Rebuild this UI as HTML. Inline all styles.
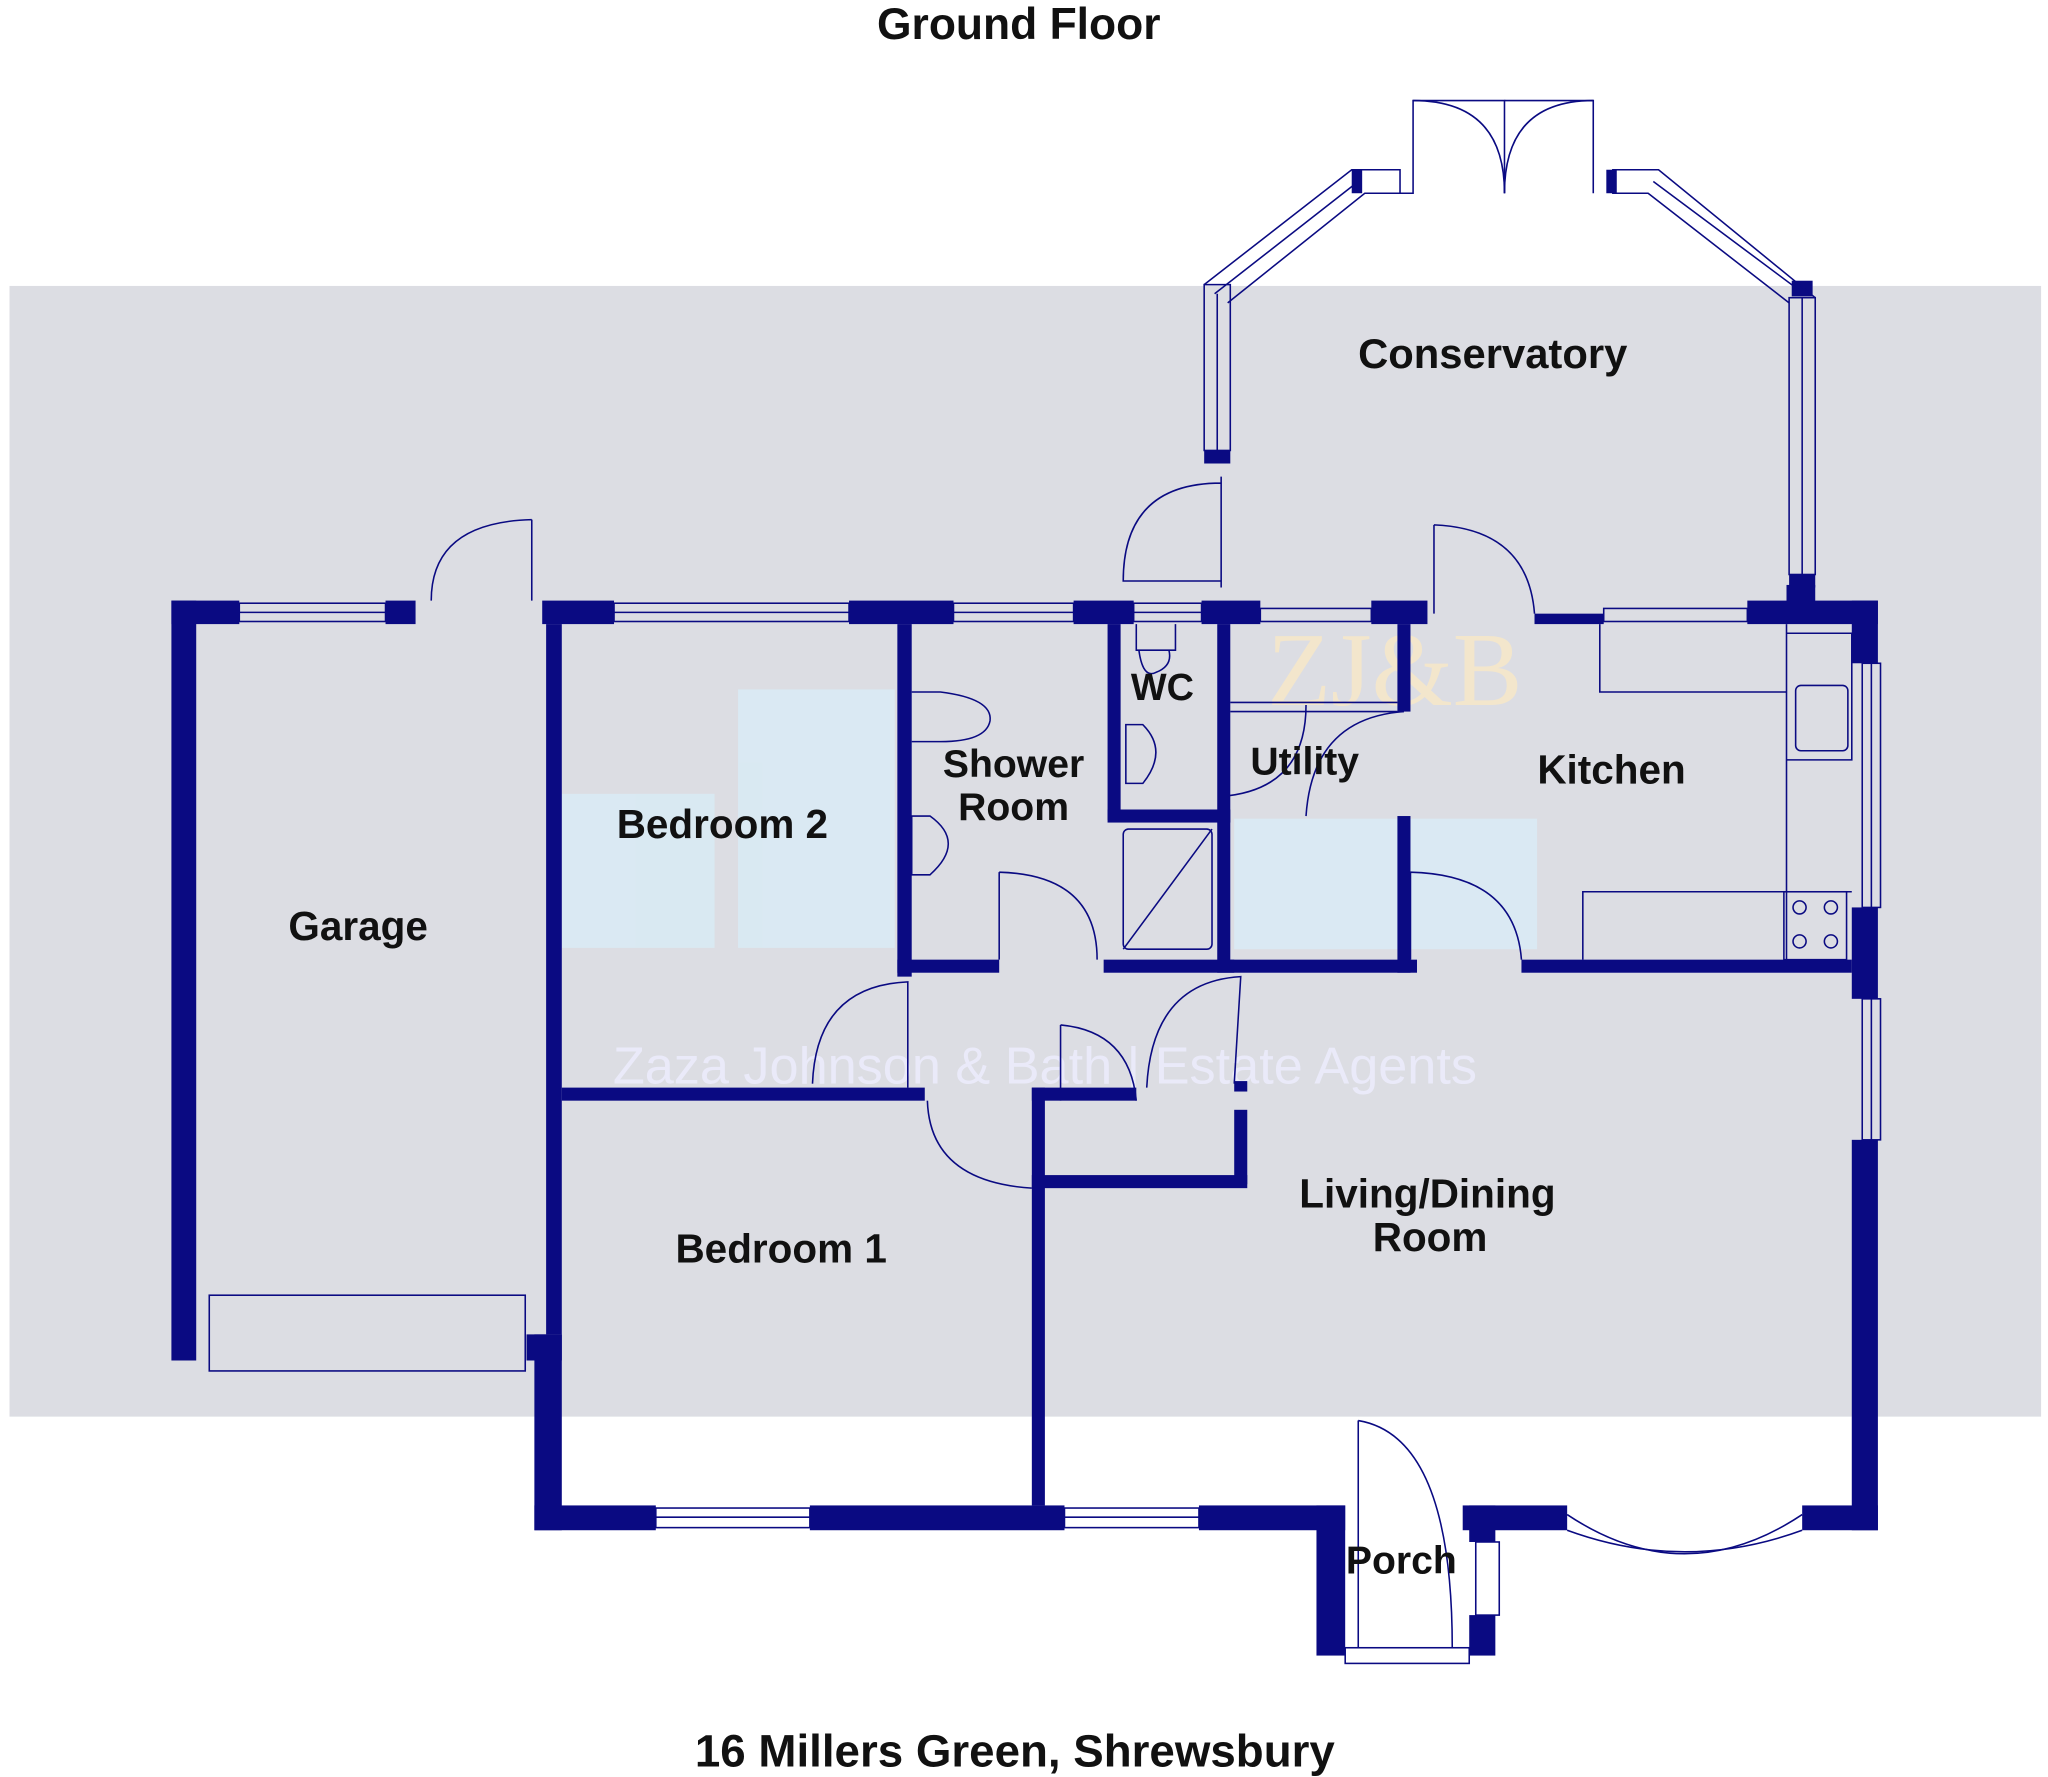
<!DOCTYPE html>
<html><head><meta charset="utf-8"><style>
html,body{margin:0;padding:0;background:#fff}
svg{display:block}
text{font-family:"Liberation Sans",sans-serif;font-weight:bold;fill:#111}
</style></head><body>
<svg width="2048" height="1777" viewBox="0 0 1568 1361" xmlns="http://www.w3.org/2000/svg">
<rect x="0" y="0" width="1568" height="1361" fill="#fff"/>
<rect x="7" y="219" width="1556" height="866" fill="#dcdde3"/>
<g fill="#d9ecf6" opacity="0.8">
<rect x="565" y="528" width="120" height="198"/><rect x="430" y="608" width="117" height="118"/>
<rect x="945" y="627" width="232" height="100"/>
</g>
<text x="800" y="830" font-size="40" style="font-weight:normal;fill:#eef" text-anchor="middle" opacity="0.8">Zaza Johnson &amp; Bath  |  Estate Agents</text>
<text x="1068" y="540" font-size="80" style="font-weight:normal;fill:#f3e6cc;font-family:'Liberation Serif',serif" text-anchor="middle">ZJ&amp;B</text>
<g fill="#0a0a82">
<rect x="131" y="460" width="19" height="582"/>
<rect x="131" y="460" width="52" height="18"/>
<rect x="295" y="460" width="23" height="18"/>
<rect x="403" y="1022" width="27" height="20"/>
<rect x="415" y="460" width="55" height="18"/>
<rect x="650" y="460" width="80" height="18"/>
<rect x="822" y="460" width="46" height="18"/>
<rect x="920" y="460" width="45" height="18"/>
<rect x="1050" y="460" width="43" height="18"/>
<rect x="1175" y="470" width="53" height="8"/>
<rect x="1338" y="460" width="100" height="18"/>
<rect x="1368" y="448" width="22" height="20"/>
<rect x="1418" y="460" width="20" height="48"/>
<rect x="1418" y="695" width="20" height="70"/>
<rect x="1418" y="873" width="20" height="299"/>
<rect x="409" y="1153" width="93" height="19"/>
<rect x="620" y="1153" width="195" height="19"/>
<rect x="918" y="1153" width="112" height="19"/>
<rect x="1120" y="1153" width="80" height="19"/>
<rect x="1380" y="1153" width="58" height="19"/>
<rect x="409" y="1022" width="21" height="150"/>
<rect x="418" y="478" width="12" height="544"/>
<rect x="1008" y="1153" width="22" height="115"/>
<rect x="1125" y="1153" width="20" height="28"/>
<rect x="1125" y="1237" width="20" height="31"/>
<rect x="687" y="478" width="11" height="270"/>
<rect x="687" y="735" width="78" height="10"/>
<rect x="845" y="735" width="100" height="10"/>
<rect x="848" y="478" width="10" height="150"/>
<rect x="848" y="620" width="94" height="10"/>
<rect x="932" y="478" width="10" height="267"/>
<rect x="1070" y="478" width="10" height="67"/>
<rect x="1070" y="625" width="10" height="120"/>
<rect x="942" y="735" width="143" height="10"/>
<rect x="1165" y="735" width="253" height="10"/>
<rect x="430" y="833" width="278" height="10"/>
<rect x="790" y="833" width="10" height="320"/>
<rect x="790" y="833" width="80" height="10"/>
<rect x="790" y="900" width="165" height="10"/>
<rect x="945" y="850" width="10" height="57"/>
<rect x="945" y="828" width="10" height="8"/>
<rect x="922" y="345" width="20" height="10"/>
<rect x="1370" y="440" width="20" height="10"/>
<rect x="1372" y="215" width="16" height="12"/>
<rect x="1035" y="130" width="8" height="18"/>
<rect x="1230" y="130" width="8" height="18"/>
</g>
<g fill="none" stroke="#0a0a82" stroke-width="1.2">
<rect x="183" y="462" width="112" height="14"/><line x1="183" y1="469" x2="295" y2="469"/>
<rect x="470" y="462" width="180" height="14"/><line x1="470" y1="469" x2="650" y2="469"/>
<rect x="730" y="462" width="92" height="14"/><line x1="730" y1="469" x2="822" y2="469"/>
<rect x="868" y="462" width="52" height="14"/><line x1="868" y1="469" x2="920" y2="469"/>
<rect x="965" y="466" width="85" height="10"/>
<rect x="1228" y="466" width="110" height="10"/>
<rect x="1426" y="508" width="14" height="187"/><line x1="1433" y1="508" x2="1433" y2="695"/>
<rect x="1426" y="765" width="14" height="108"/><line x1="1433" y1="765" x2="1433" y2="873"/>
<rect x="502" y="1155" width="118" height="15"/><line x1="502" y1="1162" x2="620" y2="1162"/>
<rect x="815" y="1155" width="103" height="15"/><line x1="815" y1="1162" x2="918" y2="1162"/>
<rect x="1130" y="1181" width="18" height="56"/>
<path d="M1200 1160 Q1290 1220 1380 1160"/><path d="M1200 1172 Q1290 1205 1380 1172"/>
<rect x="1030" y="1262" width="95" height="12"/>
<rect x="922" y="218" width="20" height="127"/><line x1="932" y1="225" x2="932" y2="345"/>
<rect x="1370" y="228" width="20" height="212"/><line x1="1380" y1="228" x2="1380" y2="440"/>
<path d="M922 218 L1035 130 L1072 130 L1072 148 L1045 148 L940 232"/>
<path d="M930 225 L1040 139"/>
<path d="M1390 228 L1270 130 L1235 130 L1235 148 L1262 148 L1370 232"/>
<path d="M1380 224 L1266 139"/>
<path d="M1072 148 L1082 148 L1082 77 L1152 77 L1152 148"/>
<path d="M1152 148 Q1152 77 1082 77"/>
<path d="M1220 148 L1220 77 L1152 77"/>
<path d="M1152 148 Q1152 77 1220 77"/>
<path d="M407 398 L407 460 M407 398 Q330 400 330 460"/>
<path d="M935 365 L935 450 M935 370 Q860 370 860 445 L935 445"/>
<path d="M1098 402 L1098 470 M1098 402 Q1170 405 1175 470"/>
<path d="M765 668 L765 735 M765 668 Q840 670 840 735"/>
<path d="M1080 668 L1080 735 M1080 668 Q1160 670 1165 735"/>
<path d="M622 830 Q625 755 695 752 L695 833"/>
<path d="M710 843 Q712 905 790 910"/>
<path d="M812 785 Q865 790 870 843 M812 785 L812 843"/>
<path d="M878 833 Q882 752 950 748 L945 830"/>
<path d="M1000 540 Q1000 605 935 610 M1000 625 Q1005 550 1075 545"/>
<path d="M1040 1088 L1040 1262 M1040 1088 Q1112 1100 1112 1262"/>
<rect x="160" y="992" width="242" height="58"/>
<rect x="860" y="635" width="68" height="92" rx="4"/>
<line x1="860" y1="727" x2="928" y2="635"/>
<path d="M870 478 L870 498 L900 498 L900 478 M872 498 Q875 520 885 515 Q898 510 895 498"/>
<path d="M862 555 L875 555 Q895 575 875 600 L862 600 Z"/>
<path d="M698 625 L712 625 Q740 645 712 670 L698 670 Z"/>
<path d="M698 530 L720 530 Q760 535 758 552 Q755 568 720 568 L698 568"/>
<path d="M1225 478 L1225 530 L1368 530"/>
<path d="M1368 478 L1368 735 M1368 485 L1418 485 L1418 582 L1368 582"/>
<rect x="1375" y="525" width="40" height="50" rx="4"/>
<path d="M1212 735 L1212 683 L1418 683"/>
<rect x="1366" y="683" width="48" height="52"/>
<circle cx="1378" cy="695" r="5"/><circle cx="1402" cy="695" r="5"/>
<circle cx="1378" cy="721" r="5"/><circle cx="1402" cy="721" r="5"/>
<path d="M942 538 L1070 538 M942 545 L1070 545"/>
</g>
<text x="780" y="30" font-size="34" text-anchor="middle">Ground Floor</text>
<text x="1143" y="282" font-size="32" text-anchor="middle">Conservatory</text>
<text x="890" y="536" font-size="29" text-anchor="middle">WC</text>
<text x="776" y="595" font-size="30" text-anchor="middle">Shower</text>
<text x="776" y="628" font-size="30" text-anchor="middle">Room</text>
<text x="999" y="593" font-size="30" text-anchor="middle">Utility</text>
<text x="1234" y="600" font-size="31" text-anchor="middle">Kitchen</text>
<text x="553" y="642" font-size="31" text-anchor="middle">Bedroom 2</text>
<text x="274" y="720" font-size="31" text-anchor="middle">Garage</text>
<text x="1093" y="925" font-size="31" text-anchor="middle">Living/Dining</text>
<text x="1095" y="958" font-size="31" text-anchor="middle">Room</text>
<text x="598" y="967" font-size="31" text-anchor="middle">Bedroom 1</text>
<text x="1073" y="1205" font-size="30" text-anchor="middle">Porch</text>
<text x="777" y="1353" font-size="35" text-anchor="middle">16 Millers Green, Shrewsbury</text>
</svg>
</body></html>
